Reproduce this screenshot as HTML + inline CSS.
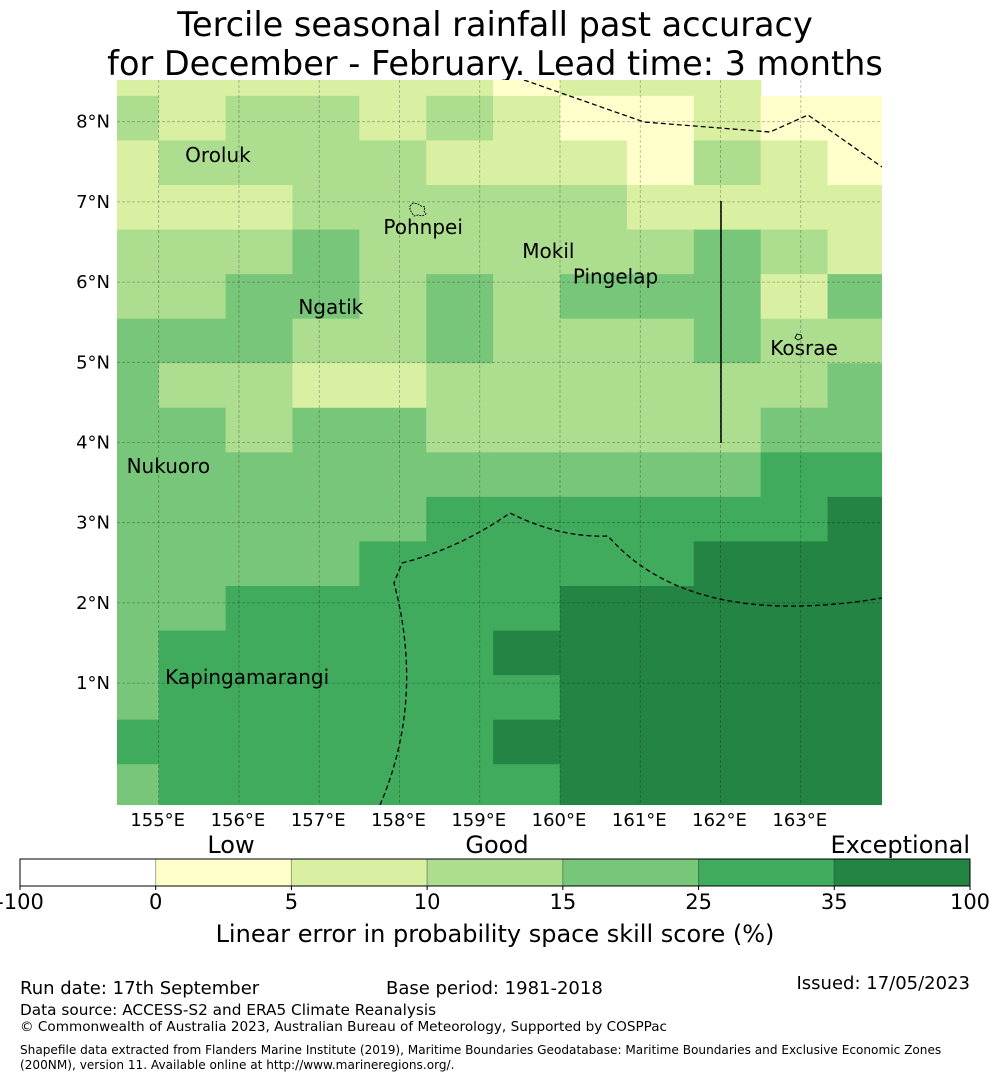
<!DOCTYPE html>
<html><head><meta charset="utf-8">
<style>
html,body{margin:0;padding:0;background:#fff;}
body{width:990px;height:1080px;position:relative;overflow:hidden;font-family:"DejaVu Sans","Liberation Sans",sans-serif;color:#000;}
svg{position:absolute;left:0;top:0;}
text{font-family:"DejaVu Sans","Liberation Sans",sans-serif;}
</style></head>
<body>
<svg id="chart" width="990" height="1080" viewBox="0 0 990 1080">
  <text x="495" y="36" font-size="33.5" text-anchor="middle">Tercile seasonal rainfall past accuracy</text>
  <text x="495" y="75" font-size="33.5" text-anchor="middle">for December - February. Lead time: 3 months</text>
  <g id="map"></g>
  <g id="cbar"></g>
  <g>
    <text x="20" y="994" font-size="18">Run date: 17th September</text>
    <text x="386" y="994" font-size="18">Base period: 1981-2018</text>
    <text x="970" y="989" font-size="18" text-anchor="end">Issued: 17/05/2023</text>
    <text x="20" y="1015" font-size="15.3">Data source: ACCESS-S2 and ERA5 Climate Reanalysis</text>
    <text x="20" y="1031" font-size="13.6">© Commonwealth of Australia 2023, Australian Bureau of Meteorology, Supported by COSPPac</text>
    <text x="20" y="1054" font-size="12.1">Shapefile data extracted from Flanders Marine Institute (2019), Maritime Boundaries Geodatabase: Maritime Boundaries and Exclusive Economic Zones</text>
    <text x="20" y="1069" font-size="12.1">(200NM), version 11. Available online at http://www.marineregions.org/.</text>
  </g>
</svg>
<script>
// ---- data ----
// skill class per grid cell, rows north→south, cols west→east (0 = no data)
const skillRows = [
  [2,2,2,2,2,2,1,2,2,2,0,0],
  [3,2,3,3,2,3,2,1,1,2,1,1],
  [2,3,3,3,3,2,2,2,1,3,2,1],
  [2,2,2,3,3,3,3,3,2,2,2,2],
  [3,3,3,4,3,3,3,3,3,4,3,2],
  [3,3,4,4,3,4,3,4,4,4,2,4],
  [4,4,4,3,3,4,3,3,3,4,3,3],
  [4,3,3,2,2,3,3,3,3,3,3,4],
  [4,4,3,4,4,3,3,3,3,3,4,4],
  [4,4,4,4,4,4,4,4,4,4,5,5],
  [4,4,4,4,4,5,5,5,5,5,5,6],
  [4,4,4,4,5,5,5,5,5,6,6,6],
  [4,4,5,5,5,5,5,6,6,6,6,6],
  [4,5,5,5,5,5,6,6,6,6,6,6],
  [4,5,5,5,5,5,5,6,6,6,6,6],
  [5,5,5,5,5,5,6,6,6,6,6,6],
  [4,5,5,5,5,5,5,6,6,6,6,6]
];
const classColors = ["none","#ffffcc","#d9f0a3","#addd8e","#78c679","#41ab5d","#238443"];
const lonTicks = [155,156,157,158,159,160,161,162,163];
const latTicks = [1,2,3,4,5,6,7,8];
const cbarBounds = ["-100","0","5","10","15","25","35","100"];
const cbarColors = ["#ffffff","#ffffcc","#d9f0a3","#addd8e","#78c679","#41ab5d","#238443"];
const places = [
  {name:"Oroluk",lon:155.33,lat:7.5},
  {name:"Pohnpei",lon:157.8,lat:6.6},
  {name:"Mokil",lon:159.53,lat:6.3},
  {name:"Pingelap",lon:160.16,lat:5.98},
  {name:"Ngatik",lon:156.74,lat:5.6},
  {name:"Kosrae",lon:162.62,lat:5.09},
  {name:"Nukuoro",lon:154.6,lat:3.62},
  {name:"Kapingamarangi",lon:155.08,lat:0.99}
];

// ---- axes ----
const NS="http://www.w3.org/2000/svg";
const mapL=117, mapR=882, mapT=80, mapB=805;
const xOf = lon => 158.7 + (lon-155)*80.26;
const yOf = lat => 121.7 - (lat-8)*80.2;
const cellW = 80.26*5/6, cellH = 80.2*5/9;
const colEdge0 = xOf(155) - cellW;
const rowEdge0 = 586 - 12*cellH;

function mk(tag, attrs, parent){ const e=document.createElementNS(NS,tag); for(const k in attrs) e.setAttribute(k,attrs[k]); parent.appendChild(e); return e; }
const map=document.getElementById('map');
const defs=mk('defs',{},map);
const cp=mk('clipPath',{id:'mapclip'},defs);
mk('rect',{x:mapL,y:mapT,width:mapR-mapL,height:mapB-mapT},cp);
const inner=mk('g',{'clip-path':'url(#mapclip)'},map);

skillRows.forEach((row,r)=>{
  row.forEach((v,c)=>{
    if(!v) return;
    const rc=mk('rect',{x:colEdge0+c*cellW,y:rowEdge0+r*cellH,width:cellW+0.6,height:cellH+0.6,fill:classColors[v]},inner);
    
    
  });
});

lonTicks.forEach(lon=>{
  const x=xOf(lon);
  const l=mk('line',{x1:x,y1:mapT,x2:x,y2:mapB,stroke:'#000','stroke-opacity':0.3,'stroke-width':0.8,'stroke-dasharray':'3,2'},inner);
  
  
  const t=mk('text',{x:x-1,y:826,'font-size':18,'text-anchor':'middle'},map);
  t.textContent=lon+"°E";
  
  
});
latTicks.forEach(lat=>{
  const y=yOf(lat);
  const l=mk('line',{x1:mapL,y1:y,x2:mapR,y2:y,stroke:'#000','stroke-opacity':0.3,'stroke-width':0.8,'stroke-dasharray':'3,2'},inner);
  
  
  const t=mk('text',{x:110,y:y+6,'font-size':18,'text-anchor':'end'},map);
  t.textContent=lat+"°N";
  
  
});

// EEZ boundaries
const eez1=mk('path',{d:'M524,80 L644,122 L770,132 L808,115 L882,167',fill:'none',stroke:'#000','stroke-width':1.3,'stroke-dasharray':'5,3'},inner);


const eez2=mk('path',{d:'M380,805 Q425,700 394,583 L402,563 Q460,548 510,513 Q560,538 608,536 Q690,630 882,598',fill:'none',stroke:'#000','stroke-width':1.3,'stroke-dasharray':'5,3'},inner);


const vline=mk('line',{x1:721,y1:201,x2:721,y2:443,stroke:'#000','stroke-width':1.5},inner);



// islands
const pohn=mk('path',{d:'M410,206 l3,-3 l5,1 l3,2 l4,1 l-1,4 l2,3 l-4,2 l-4,-1 l-4,1 l-2,-3 l-2,-3 z',fill:'none',stroke:'#000','stroke-width':0.9,'stroke-dasharray':'2,1'},inner);


const kos=mk('path',{d:'M795,338 l2,-4 l4,1 l1,3 l-4,2 z',fill:'none',stroke:'#000','stroke-width':0.9},inner);



places.forEach(p=>{
  const t=mk('text',{x:xOf(p.lon),y:yOf(p.lat),'font-size':20},map);
  t.textContent=p.name;
  
  
});

// colorbar
const cb=document.getElementById('cbar');
const cbL=20, cbR=970, cbT=859, cbB=886;
const segW=(cbR-cbL)/cbarColors.length;
cbarColors.forEach((c,i)=>{
  const r=mk('rect',{x:cbL+i*segW,y:cbT,width:segW,height:cbB-cbT,fill:c,stroke:'rgba(0,0,0,0.25)','stroke-width':1},cb);
  
  
});
mk('rect',{x:cbL,y:cbT,width:cbR-cbL,height:cbB-cbT,fill:'none',stroke:'#000','stroke-width':1},cb);
cbarBounds.forEach((b,i)=>{
  const x=cbL+i*segW;
  mk('line',{x1:x,y1:cbB,x2:x,y2:cbB+4,stroke:'#000'},cb);
  const t=mk('text',{x:x,y:909,'font-size':21,'text-anchor':'middle'},cb);
  t.textContent=b;
  
  
});
[["Low",231,"middle"],["Good",497,"middle"],["Exceptional",970,"end"]].forEach(a=>{
  const t=mk('text',{x:a[1],y:853,'font-size':24,'text-anchor':a[2]},cb);
  t.textContent=a[0];
  
  
});
const ct=mk('text',{x:495,y:942,'font-size':24,'text-anchor':'middle'},cb);
ct.textContent="Linear error in probability space skill score (%)";


</script>
</body></html>
